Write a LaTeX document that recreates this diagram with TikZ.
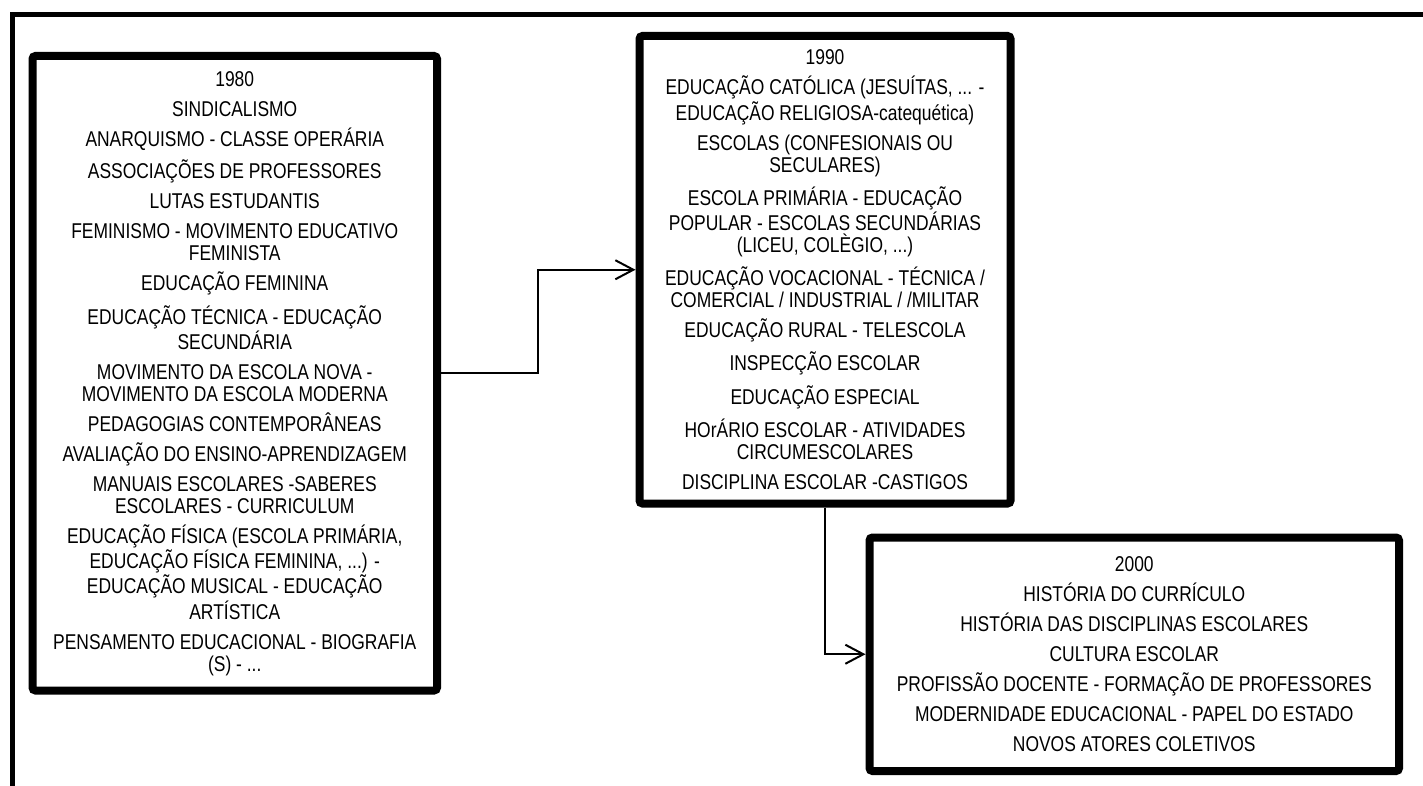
\documentclass[tikz,border=0pt]{standalone}
\usepackage{fontspec}
\setmainfont{Liberation Sans}[FakeStretch=0.815]
\usetikzlibrary{arrows.meta,positioning,shadows}
\tikzset{
  era/.style={draw=black,fill=white,line width=4pt,rounded corners=1.5pt,inner sep=0pt,
              align=center,font=\fontsize{10.7}{11}\selectfont,
              drop shadow={opacity=0.25,shadow xshift=1.5pt,shadow yshift=-1.5pt}},
  link/.style={-{Straight Barb[length=9pt,width=9.5pt]},line width=1pt,draw=black},
  outerline/.style={draw=black,line width=2.5pt},
}
\begin{document}
\begin{tikzpicture}[x=0.5pt,y=-0.5pt]
  \useasboundingbox (0,0) rectangle (1423,786);
  % outer frame
  \draw[outerline] (12.5,800) -- (12.5,14.5) -- (1440,14.5);
  % decades
  \node[era,minimum width=202.25pt,minimum height=317.25pt] (y80) at (234.75,373.25) {1980\\[4pt]
    SINDICALISMO\\[4pt]
    ANARQUISMO - CLASSE OPERÁRIA\\[4pt]
    ASSOCIAÇÕES DE PROFESSORES\\[4pt]
    LUTAS ESTUDANTIS\\[4pt]
    FEMINISMO - MOVIMENTO EDUCATIVO\\FEMINISTA\\[4pt]
    EDUCAÇÃO FEMININA\\[4pt]
    EDUCAÇÃO TÉCNICA - EDUCAÇÃO\\SECUNDÁRIA\\[4pt]
    MOVIMENTO DA ESCOLA NOVA -\\MOVIMENTO DA ESCOLA MODERNA\\[4pt]
    PEDAGOGIAS CONTEMPORÂNEAS\\[4pt]
    AVALIAÇÃO DO ENSINO-APRENDIZAGEM\\[4pt]
    MANUAIS ESCOLARES -SABERES\\ESCOLARES - CURRICULUM\\[4pt]
    EDUCAÇÃO FÍSICA (ESCOLA PRIMÁRIA,\\EDUCAÇÃO FÍSICA FEMININA, ...) -\\EDUCAÇÃO MUSICAL - EDUCAÇÃO\\ARTÍSTICA\\[4pt]
    PENSAMENTO EDUCACIONAL - BIOGRAFIA\\(S) - ...};
  \node[era,minimum width=185.5pt,minimum height=233.75pt] (y90) at (825,269.75) {1990\\[4pt]
    EDUCAÇÃO CATÓLICA (JESUÍTAS, ... -\\EDUCAÇÃO RELIGIOSA-catequética)\\[4pt]
    ESCOLAS (CONFESIONAIS OU\\SECULARES)\\[4pt]
    ESCOLA PRIMÁRIA - EDUCAÇÃO\\POPULAR - ESCOLAS SECUNDÁRIAS\\(LICEU, COLÈGIO, ...)\\[4pt]
    EDUCAÇÃO VOCACIONAL - TÉCNICA /\\COMERCIAL / INDUSTRIAL / /MILITAR\\[4pt]
    EDUCAÇÃO RURAL - TELESCOLA\\[4pt]
    INSPECÇÃO ESCOLAR\\[4pt]
    EDUCAÇÃO ESPECIAL\\[4pt]
    HOrÁRIO ESCOLAR - ATIVIDADES\\CIRCUMESCOLARES\\[4pt]
    DISCIPLINA ESCOLAR -CASTIGOS};
  \node[era,minimum width=264.75pt,minimum height=116.75pt] (y00) at (1134.25,654.25) {2000\\[4pt]
    HISTÓRIA DO CURRÍCULO\\[4pt]
    HISTÓRIA DAS DISCIPLINAS ESCOLARES\\[4pt]
    CULTURA ESCOLAR\\[4pt]
    PROFISSÃO DOCENTE - FORMAÇÃO DE PROFESSORES\\[4pt]
    MODERNIDADE EDUCACIONAL - PAPEL DO ESTADO\\[4pt]
    NOVOS ATORES COLETIVOS};
  % connectors
  \draw[link] (y80.east) -- ++(97,0) |- (y90.west);
  \draw[link] (y90.south) |- (y00.west);
\end{tikzpicture}
\end{document}
